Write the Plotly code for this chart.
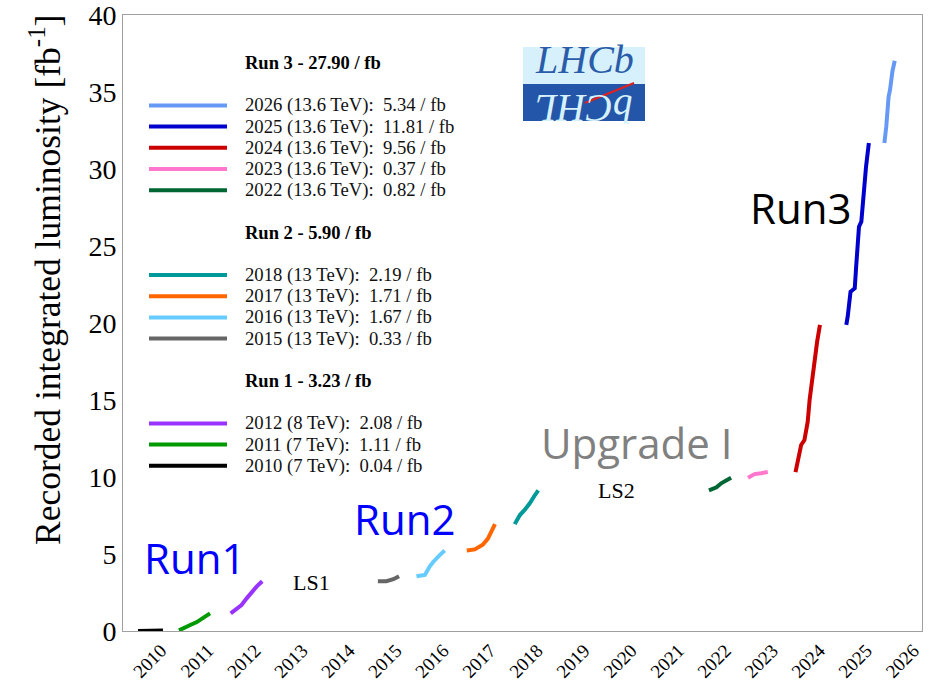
import plotly.graph_objects as go

# ---------------- data ----------------
years = [2010, 2011, 2012, 2015, 2016, 2017, 2018, 2022, 2023, 2024, 2025, 2026]
energies = ["7", "7", "8", "13", "13", "13", "13", "13.6", "13.6", "13.6", "13.6", "13.6"]
lumis = [0.04, 1.11, 2.08, 0.33, 1.67, 1.71, 2.19, 0.82, 0.37, 9.56, 11.81, 5.34]
colors = ["#000000", "#009900", "#9933ff", "#666666", "#66ccff", "#ff6600",
          "#009999", "#006633", "#ff77cc", "#cc0000", "#0000cc", "#6699f5"]

run_names = ["Run 3", "Run 2", "Run 1"]
run_totals = [27.90, 5.90, 3.23]
run_years = [[2026, 2025, 2024, 2023, 2022], [2018, 2017, 2016, 2015], [2012, 2011, 2010]]

# cumulative curves (fractional year, integrated lumi in fb^-1)
x_2010 = [2010.34, 2010.60, 2010.87]
y_2010 = [0.00, 0.01, 0.04]
x_2011 = [2011.21, 2011.34, 2011.45, 2011.59, 2011.66, 2011.81, 2011.87]
y_2011 = [0.04, 0.26, 0.39, 0.58, 0.71, 0.97, 1.15]
x_2012 = [2012.31, 2012.44, 2012.54, 2012.65, 2012.76, 2012.86, 2012.98]
y_2012 = [1.15, 1.50, 1.69, 2.12, 2.55, 2.88, 3.23]
x_2015 = [2015.44, 2015.62, 2015.77, 2015.89]
y_2015 = [3.23, 3.23, 3.36, 3.56]
x_2016 = [2016.26, 2016.44, 2016.54, 2016.62, 2016.76, 2016.86]
y_2016 = [3.56, 3.64, 4.18, 4.50, 4.94, 5.23]
x_2017 = [2017.33, 2017.50, 2017.67, 2017.78, 2017.86, 2017.93]
y_2017 = [5.23, 5.30, 5.60, 6.00, 6.50, 6.94]
x_2018 = [2018.35, 2018.46, 2018.56, 2018.67, 2018.78, 2018.85]
y_2018 = [6.94, 7.53, 7.86, 8.29, 8.83, 9.13]
x_2022 = [2022.48, 2022.64, 2022.74, 2022.85, 2022.95]
y_2022 = [9.13, 9.33, 9.59, 9.76, 9.95]
x_2023 = [2023.31, 2023.45, 2023.59, 2023.73]
y_2023 = [9.95, 10.19, 10.25, 10.32]
x_2024 = [2024.32, 2024.37, 2024.44, 2024.51, 2024.58, 2024.62, 2024.66, 2024.71, 2024.75, 2024.78, 2024.84]
y_2024 = [10.32, 11.21, 12.08, 12.40, 13.59, 15.00, 16.08, 17.16, 18.36, 18.79, 19.88]
x_2025 = [2025.40, 2025.43, 2025.49, 2025.58, 2025.61, 2025.67, 2025.72, 2025.77, 2025.82, 2025.88]
y_2025 = [19.88, 20.41, 22.03, 22.25, 23.66, 26.25, 26.58, 28.85, 30.15, 31.69]
x_2026 = [2026.21, 2026.25, 2026.30, 2026.33, 2026.38, 2026.43]
y_2026 = [31.69, 32.75, 34.70, 35.13, 36.32, 37.03]

curves_x = [x_2010, x_2011, x_2012, x_2015, x_2016, x_2017, x_2018, x_2022, x_2023, x_2024, x_2025, x_2026]
curves_y = [y_2010, y_2011, y_2012, y_2015, y_2016, y_2017, y_2018, y_2022, y_2023, y_2024, y_2025, y_2026]

tick_years = list(range(2010, 2027))
y_ticks = list(range(0, 41, 5))

# annotations on the plot (data coordinates)
phase_labels = ["Run1", "Run2", "Upgrade I", "Run3"]
phase_x = [2011.55, 2016.01, 2020.96, 2024.42]
phase_y = [4.75, 7.3, 12.25, 27.5]
phase_colors = ["#0000ff", "#0000ff", "#808080", "#000000"]
shutdown_labels = ["LS1", "LS2"]
shutdown_x = [2014.02, 2020.52]
shutdown_y = [3.15, 9.15]

# ---------------- geometry helpers ----------------
FIG_W, FIG_H = 941, 681
L, R, T, B = 123, 19, 15, 50
W = FIG_W - L - R
H = FIG_H - T - B


def px(xp):
    return (xp - L) / W


def py(yp):
    return (T + H - yp) / H


SERIF = "Liberation Serif, Times New Roman, serif"
SANS = "Open Sans, Noto Sans, sans-serif"

fig = go.Figure()

for yr, cx, cy, col in zip(years, curves_x, curves_y, colors):
    fig.add_trace(go.Scatter(x=cx, y=cy, mode="lines", name=str(yr),
                             line=dict(color=col, width=4), showlegend=False,
                             hoverinfo="x+y+name"))

shapes = []
annotations = []

# ---------------- manual legend ----------------
row_h = 21.2
row0 = 63
row = 0
info = {y: (e, l, c) for y, e, l, c in zip(years, energies, lumis, colors)}
for rname, rtot, ryears in zip(run_names, run_totals, run_years):
    yp = row0 + row * row_h
    annotations.append(dict(x=px(243), y=py(yp), xref="paper", yref="paper",
                            text="<b>%s - %.2f / fb</b>" % (rname, rtot), showarrow=False,
                            xanchor="left", yanchor="middle",
                            font=dict(family=SERIF, size=18.5, color="#000")))
    row += 2
    for yr in ryears:
        e, l, c = info[yr]
        yp = row0 + row * row_h
        shapes.append(dict(type="line", xref="paper", yref="paper",
                           x0=px(149), x1=px(227), y0=py(yp), y1=py(yp),
                           line=dict(color=c, width=4)))
        annotations.append(dict(x=px(243), y=py(yp), xref="paper", yref="paper",
                                text="%d (%s TeV):&nbsp; %.2f / fb" % (yr, e, l), showarrow=False,
                                xanchor="left", yanchor="middle",
                                font=dict(family=SERIF, size=18.7, color="#111")))
        row += 1
    row += 1

# ---------------- phase labels ----------------
for t, x, y, c in zip(phase_labels, phase_x, phase_y, phase_colors):
    annotations.append(dict(x=x, y=y, xref="x", yref="y", text=t, showarrow=False,
                            xanchor="center", yanchor="middle",
                            font=dict(family=SANS, size=42, color=c)))
for t, x, y in zip(shutdown_labels, shutdown_x, shutdown_y):
    annotations.append(dict(x=x, y=y, xref="x", yref="y", text=t, showarrow=False,
                            xanchor="center", yanchor="middle",
                            font=dict(family=SERIF, size=22, color="#000")))

# ---------------- LHCb logo ----------------
shapes.append(dict(type="rect", xref="paper", yref="paper", x0=px(523), x1=px(645),
                   y0=py(84), y1=py(47), line=dict(width=0), fillcolor="#d6f1fb", layer="below"))
shapes.append(dict(type="rect", xref="paper", yref="paper", x0=px(523), x1=px(645),
                   y0=py(121), y1=py(84), line=dict(width=0), fillcolor="#2356a8", layer="below"))
annotations.append(dict(x=px(584), y=py(84), xref="paper", yref="paper",
                        text="<i>bCHL</i>",
                        textangle=180, showarrow=False, xanchor="center", yanchor="top",
                        font=dict(family=SERIF, size=40, color="#d6f1fb")))
annotations.append(dict(x=px(584), y=py(84), xref="paper", yref="paper",
                        text="<i>LHCb</i>",
                        showarrow=False, xanchor="center", yanchor="bottom",
                        font=dict(family=SERIF, size=40, color="#2a5caa")))
shapes.append(dict(type="line", xref="paper", yref="paper", x0=px(585), x1=px(634),
                   y0=py(103), y1=py(83), line=dict(color="#e02020", width=2)))

# ---------------- y axis title ----------------
annotations.append(dict(x=px(45), y=py(280), xref="paper", yref="paper",
                        text="Recorded integrated luminosity [fb<sup>-1</sup>]",
                        textangle=-90, showarrow=False, xanchor="center", yanchor="middle",
                        font=dict(family=SERIF, size=35.5, color="#000")))

fig.update_layout(
    width=FIG_W, height=FIG_H,
    margin=dict(l=L, r=R, t=T, b=B, pad=0),
    paper_bgcolor="white", plot_bgcolor="white",
    shapes=shapes, annotations=annotations,
    showlegend=False,
    xaxis=dict(range=[2010.02, 2027.01], tickmode="array",
               tickvals=[y + 0.83 for y in tick_years], ticktext=[str(y) for y in tick_years],
               tickangle=-45, showgrid=False, zeroline=False, automargin=False,
               ticklabeloverflow="allow",
               showline=True, linecolor="#a0a0a0", linewidth=1, mirror=True,
               ticks="", tickfont=dict(family=SERIF, size=19, color="#000")),
    yaxis=dict(range=[0, 40], tickmode="array", tickvals=y_ticks,
               showgrid=False, zeroline=False, automargin=False,
               ticklabeloverflow="allow",
               showline=True, linecolor="#a0a0a0", linewidth=1, mirror=True,
               ticks="", tickfont=dict(family=SERIF, size=28, color="#000")),
)

fig.write_html("out.html", config={"displayModeBar": False},
               post_script="document.body.style.margin='0px';document.body.style.overflow='hidden';")
